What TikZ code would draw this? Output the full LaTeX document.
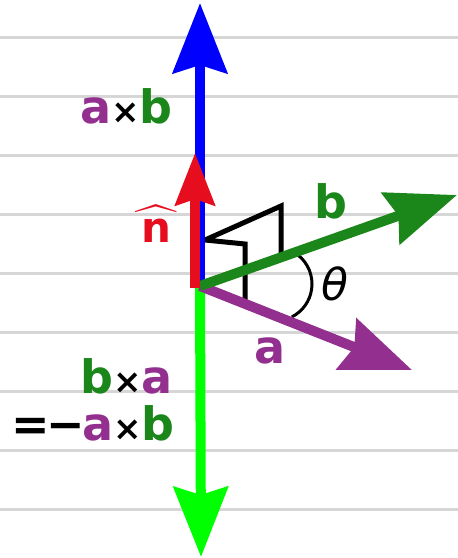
\documentclass[tikz,border=0pt]{standalone}
\usepackage{fontspec}
\usepackage{amsmath}
\usepackage{exscale}
\newfontfamily\dvs{DejaVu Sans}
\usetikzlibrary{arrows.meta}
\definecolor{vecA}{HTML}{93308F}
\definecolor{vecB}{HTML}{1B871B}
\definecolor{vecN}{HTML}{E60E1E}
\definecolor{ruling}{HTML}{D6D6D6}
\newcommand{\crossx}{{\fontsize{17}{17}\selectfont×}}
\begin{document}
\begin{tikzpicture}[x=0.5pt,y=-0.5pt,
	every node/.style={inner sep=0pt,anchor=base,font=\dvs\bfseries\fontsize{23}{23}\selectfont},
	vec/.style={line width=5pt,-{Stealth[length=35pt,width=27pt,inset=4pt]}},
	rightang/.style={line width=2.5pt,black}]
\useasboundingbox (0,0) rectangle (458,558);
\foreach \y in {0,...,8} {
	\draw[ruling,line width=1.5pt] (0,37+59*\y) -- (458,37+59*\y);
}
\coordinate (o) at (200,286);
\coordinate (o-n) at (195,288);
\coordinate (axb) at (200,3);
\coordinate (bxa) at (201,557);
\coordinate (n) at (195,153);
\coordinate (a) at (412,370);
\coordinate (b) at (457,195);
\coordinate (m1) at (205,240);
\coordinate (m1a) at (245,244);
\coordinate (m1b) at (245,300);
\coordinate (m2a) at (281,206);
\coordinate (m2b) at (281,255);
\coordinate (arc-c) at (275,284);
\draw[rightang] (m1b) -- (m1a) -- (m1) -- (m2a) -- (m2b);
\draw[line width=1.5pt] (arc-c) ++(-52:37) arc[start angle=-52,end angle=63,radius=37];
\draw[vec,blue] (o) -- (axb);
\draw[vec,green] (o) -- (bxa);
\draw[vec,vecA] (o) -- (a);
\draw[vec,vecB] (o) -- (b);
\draw[vecN,line width=5pt,-{Stealth[length=26pt,width=19.5pt,inset=3pt]}] (o-n) -- (n);
\node[text=vecA] (lbl-a) at (270,363) {a};
\node[text=vecB] (lbl-b) at (331,218) {b};
\node[text=vecN,font=\dvs\bfseries\fontsize{21}{21}\selectfont] (lbl-n) at (156,242) {$\widehat{\hbox{\kern3.2pt n\kern3.2pt}}$};
\node[font=\dvs\itshape\fontsize{22}{22}\selectfont] (lbl-theta) at (335,300) {θ};
\node[anchor=base east] (lbl-axb) at (173,123) {\textcolor{vecA}{a}\crossx\textcolor{vecB}{b}};
\node[anchor=base east] (lbl-bxa) at (173,393) {\textcolor{vecB}{b}\crossx\textcolor{vecA}{a}};
\node[anchor=base east] (lbl-neg) at (175,440) {=\kern-1.5pt−\kern-1.5pt\textcolor{vecA}{a}\crossx\textcolor{vecB}{b}};
\end{tikzpicture}
\end{document}
